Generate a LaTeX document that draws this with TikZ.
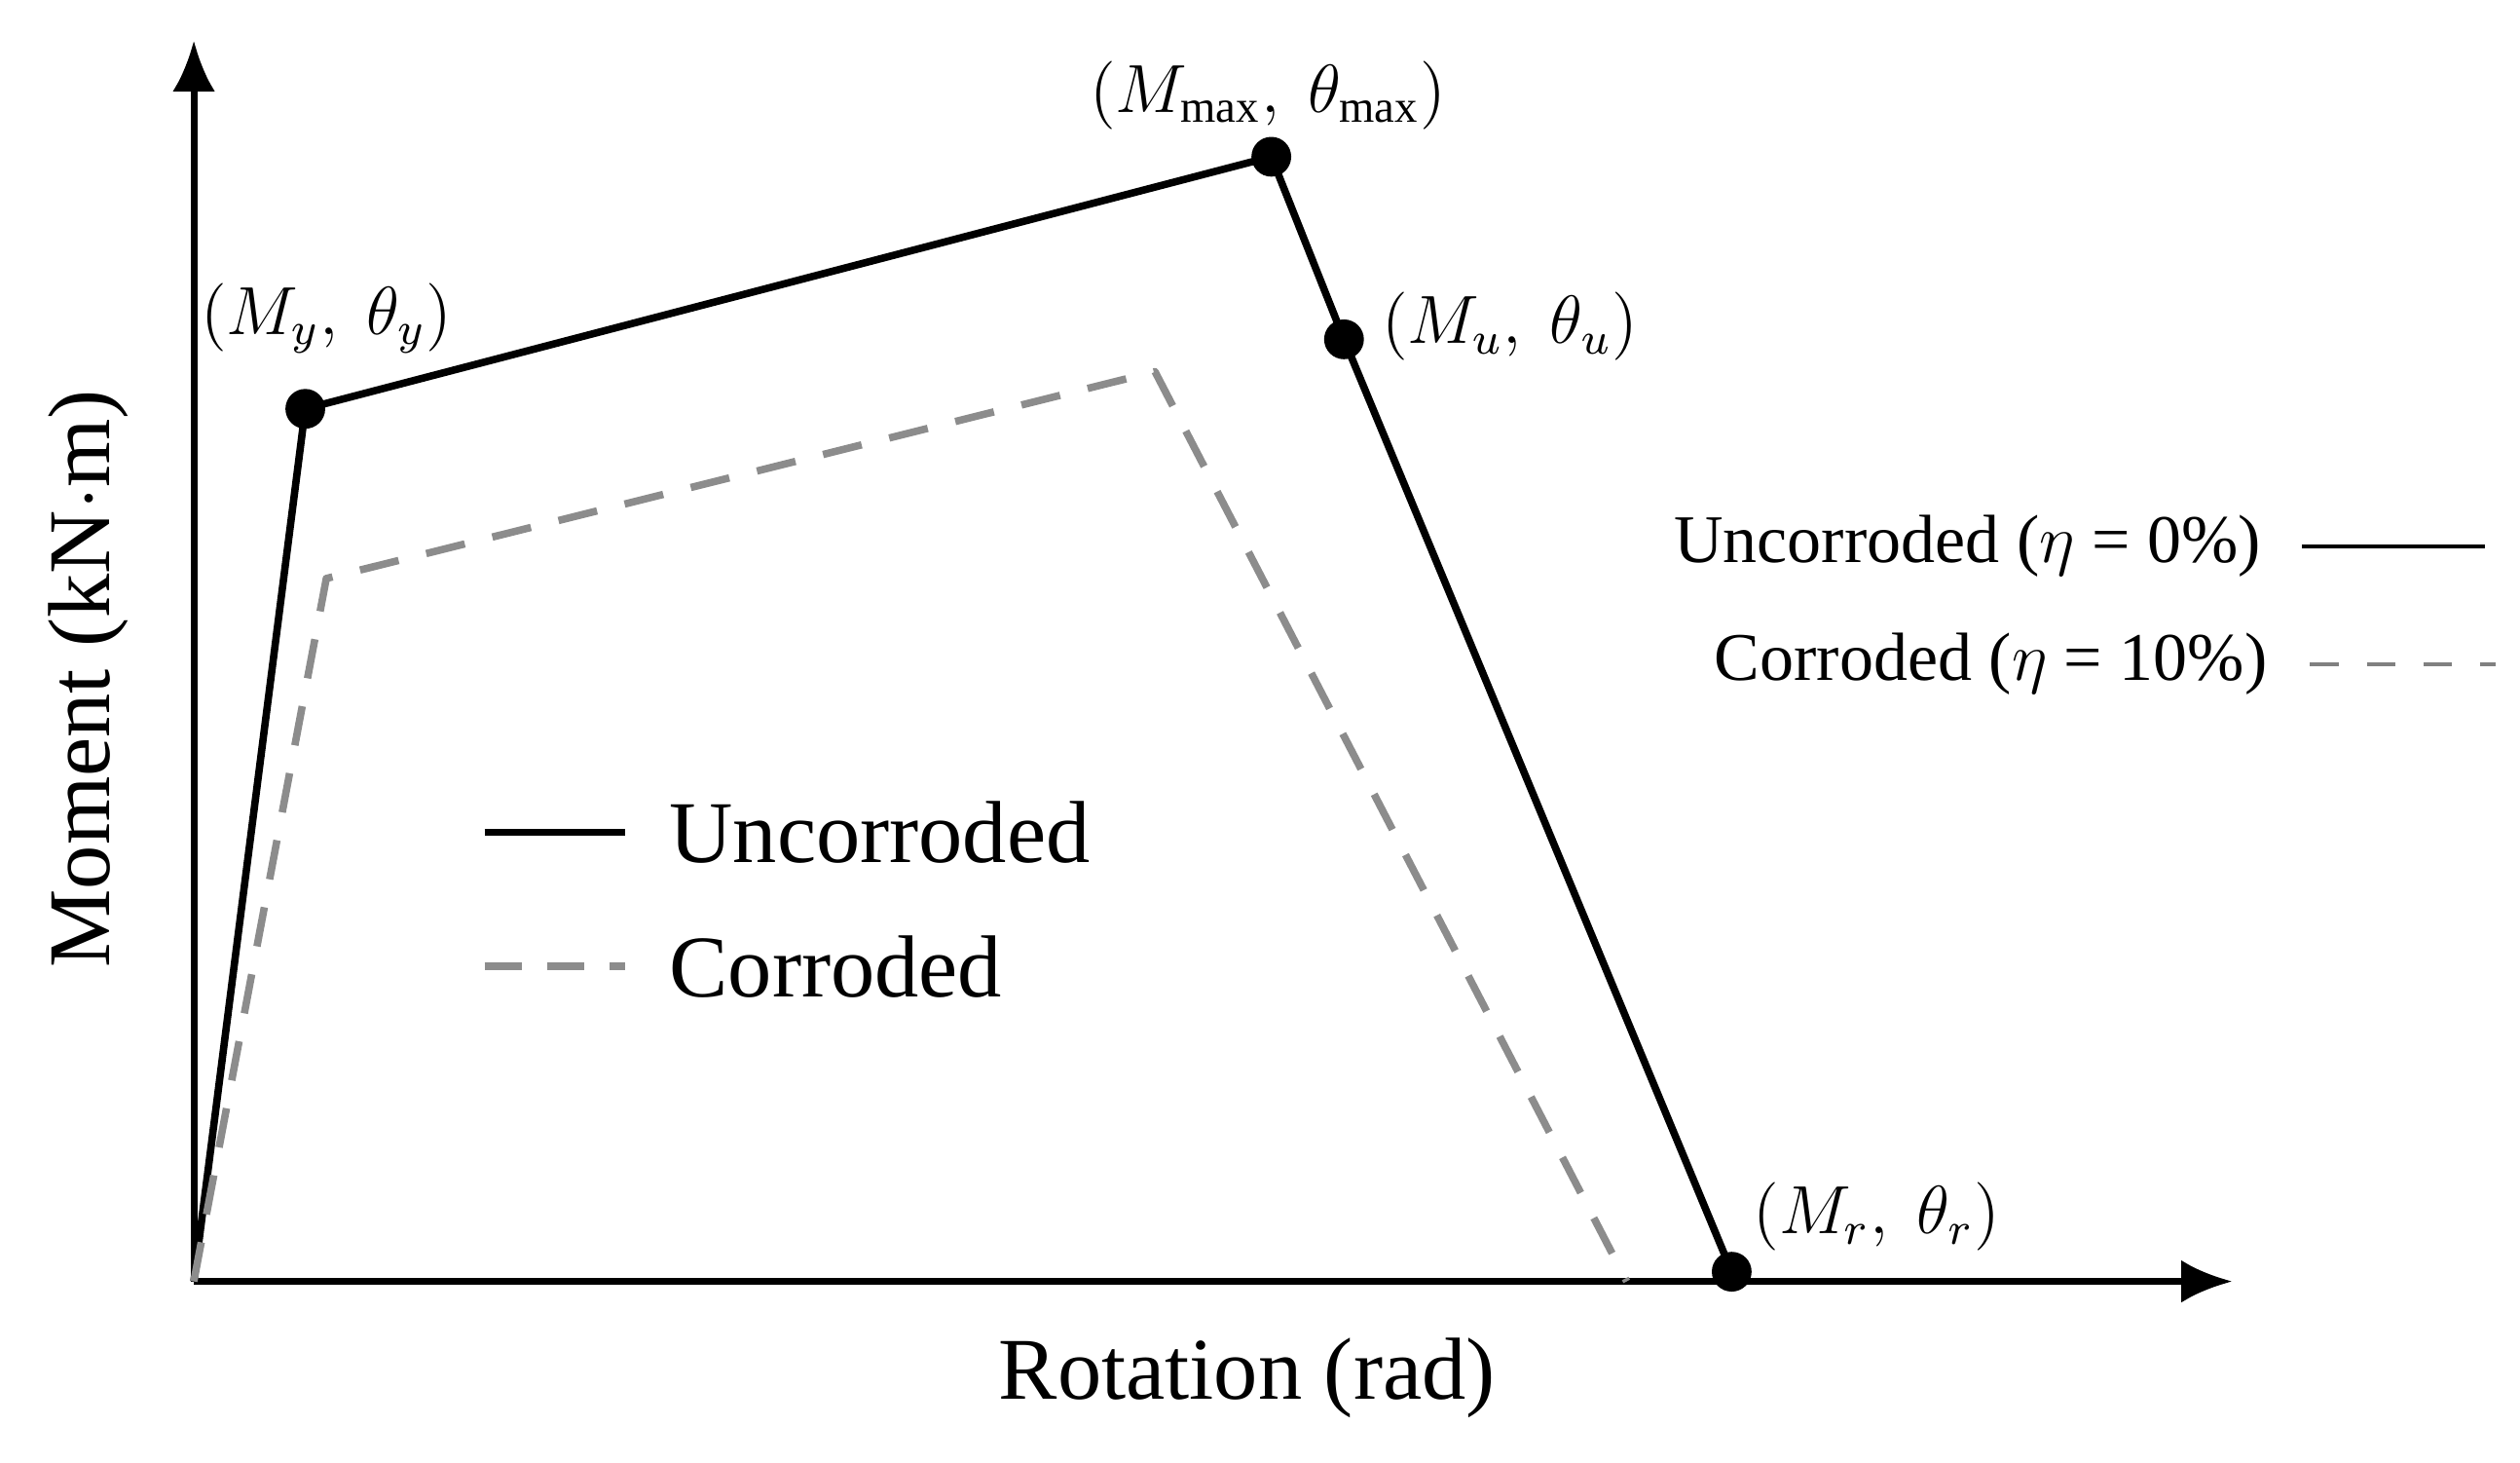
\documentclass[tikz,border=0pt]{standalone}
\usepackage{fontspec}
\setmainfont{Liberation Serif}
\usetikzlibrary{arrows.meta}
\tikzstyle{curve}=[line width=1.3pt, line join=round]
\tikzstyle{uncorr}=[curve, black]
\tikzstyle{corr}=[curve, gray!90, dash pattern=on 7pt off 5pt]
\tikzstyle{axis}=[line width=1.2pt, -{Latex[length=9pt, width=7.5pt]}]
\tikzstyle{pt}=[circle, fill=black, inner sep=0, minimum size=7pt]
\tikzstyle{plabel}=[font=\fontsize{12}{12}\selectfont]
\begin{document}
\begin{tikzpicture}[x=0.01cm, y=0.01cm]
        \useasboundingbox (0, 0) rectangle (1560, 905);
        % axes
        \coordinate (O) at (120, 112);
        \coordinate (Ytop) at (120, 880);
        \coordinate (Xend) at (1382, 112);
        \draw[axis] (O) -- (Ytop);
        \draw[axis] (O) -- (Xend);
        \node[font=\fontsize{15.5}{15.5}\selectfont, rotate=90] (ylab) at (55, 485) {Moment (kN$\cdot$m)};
        \node[font=\fontsize{15.5}{15.5}\selectfont] (xlab) at (772, 52) {Rotation (rad)};
        % uncorroded
        \node[pt] (Y) at (189, 652) {};
        \node[pt] (Mx) at (787, 808) {};
        \node[pt] (U) at (832, 695) {};
        \node[pt] (R) at (1072, 118) {};
        \draw[uncorr] (O) -- (Y.center) -- (Mx.center) -- (U.center) -- (R.center);
        % corroded
        \coordinate (cY) at (202, 547);
        \coordinate (cM) at (715, 675);
        \coordinate (cR) at (1007, 112);
        \draw[corr] (O) -- (cY) -- (cM) -- (cR);
        % point labels
        \node[plabel] (lY) at (202, 708) {$\bigl(M_{y},\ \theta_{y}\bigr)$};
        \node[plabel] (lM) at (785, 846) {$\bigl(M_{\max},\ \theta_{\max}\bigr)$};
        \node[plabel, right] (lU) at (843, 703) {$\bigl(M_{u},\ \theta_{u}\bigr)$};
        \node[plabel, right] (lR) at (1073, 152) {$\bigl(M_{r},\ \theta_{r}\bigr)$};
        % legend inside
        \coordinate (l1a) at (300, 390);
        \coordinate (l1b) at (387, 390);
        \coordinate (l2a) at (300, 307);
        \coordinate (l2b) at (387, 307);
        \draw[uncorr] (l1a) -- (l1b);
        \draw[corr, dash pattern=on 6.5pt off 4.5pt] (l2a) -- (l2b);
        \node[right, font=\fontsize{15.5}{15.5}\selectfont] (t1) at (402, 390) {Uncorroded};
        \node[right, font=\fontsize{15.5}{15.5}\selectfont] (t2) at (402, 307) {Corroded};
        % legend right
        \node[left, font=\fontsize{12}{12}\selectfont] (r1) at (1412, 567) {Uncorroded ($\eta$ = 0\%)};
        \node[left, font=\fontsize{12}{12}\selectfont] (r2) at (1416, 494) {Corroded ($\eta$ = 10\%)};
        \coordinate (r1a) at (1425, 567);
        \coordinate (r1b) at (1538, 567);
        \coordinate (r2a) at (1430, 494);
        \coordinate (r2b) at (1545, 494);
        \draw[line width=0.7pt] (r1a) -- (r1b);
        \draw[line width=0.7pt, gray, dash pattern=on 5pt off 5pt] (r2a) -- (r2b);
\end{tikzpicture}
\end{document}
